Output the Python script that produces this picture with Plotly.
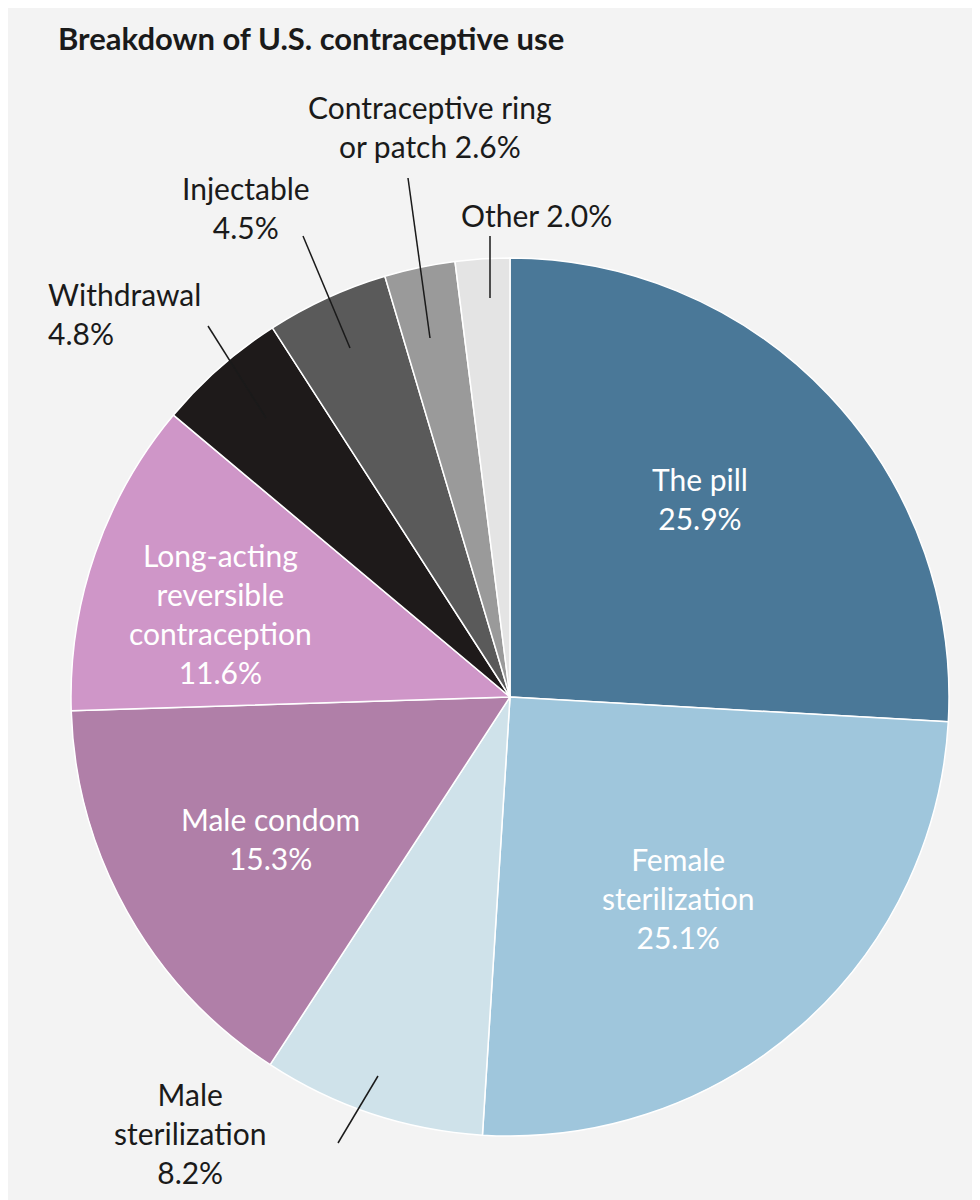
import plotly.graph_objects as go

labels = ["The pill", "Female sterilization", "Male sterilization", "Male condom",
          "Long-acting reversible contraception", "Withdrawal", "Injectable",
          "Contraceptive ring or patch", "Other"]
values = [25.9, 25.1, 8.2, 15.3, 11.6, 4.8, 4.5, 2.6, 2.0]
colors = ["#4a7898", "#9fc6dc", "#cfe2ea", "#b07fa8", "#cf96c8",
          "#1e1a1a", "#5a5a5a", "#9a9a9a", "#e4e4e4"]

W, H = 980, 1200
fig = go.Figure(go.Pie(
    labels=labels, values=values, sort=False, direction="clockwise", rotation=0,
    marker=dict(colors=colors, line=dict(color="white", width=1.5)),
    textinfo="none", hoverinfo="label+percent", showlegend=False,
    domain=dict(x=[62 / W, 942 / W], y=[1 - 1128 / H, 1 - 250 / H]),
))

def px(x, y):
    return x / W, 1 - y / H

# label text, position (px), colour, anchor
notes = [
    ("The pill<br>25.9%", 692, 490, "white", "center"),
    ("Female<br>sterilization<br>25.1%", 670, 890, "white", "center"),
    ("Male condom<br>15.3%", 262, 830, "white", "center"),
    ("Long-acting<br>reversible<br>contraception<br>11.6%", 212, 605, "white", "center"),
    ("Male<br>sterilization<br>8.2%", 182, 1125, "#1a1a1a", "center"),
    ("Withdrawal<br>4.8%", 38, 305, "#1a1a1a", "left"),
    ("Injectable<br>4.5%", 238, 200, "#1a1a1a", "center"),
    ("Contraceptive ring<br>or patch 2.6%", 422, 118, "#1a1a1a", "center"),
    ("Other 2.0%", 528, 207, "#1a1a1a", "center"),
]
for txt, x, y, c, anc in notes:
    ax, ay = px(x, y)
    fig.add_annotation(text=txt, x=ax, y=ay, xref="paper", yref="paper",
                       xanchor=anc, yanchor="middle", align=anc, showarrow=False,
                       font=dict(family="Lato", size=30, color=c))

leaders = [((330, 1135), (370, 1068)), ((200, 318), (258, 410)),
           ((295, 228), (342, 340)), ((400, 170), (422, 330)),
           ((482, 228), (482, 290))]
for (x0, y0), (x1, y1) in leaders:
    a0, b0 = px(x0, y0)
    a1, b1 = px(x1, y1)
    fig.add_shape(type="line", xref="paper", yref="paper", x0=a0, y0=b0, x1=a1, y1=b1,
                  line=dict(color="#1a1a1a", width=1.5))

fig.add_annotation(text="<b>Breakdown of U.S. contraceptive use</b>", x=48 / W, y=1 - 30 / H,
                   xref="paper", yref="paper", xanchor="left", yanchor="middle",
                   showarrow=False, font=dict(family="Lato", size=31, color="#1a1a1a"))

fig.update_layout(width=W, height=H, margin=dict(l=0, r=0, t=0, b=0),
                  paper_bgcolor="#f3f3f3", plot_bgcolor="#f3f3f3")
fig.write_html("out.html")
